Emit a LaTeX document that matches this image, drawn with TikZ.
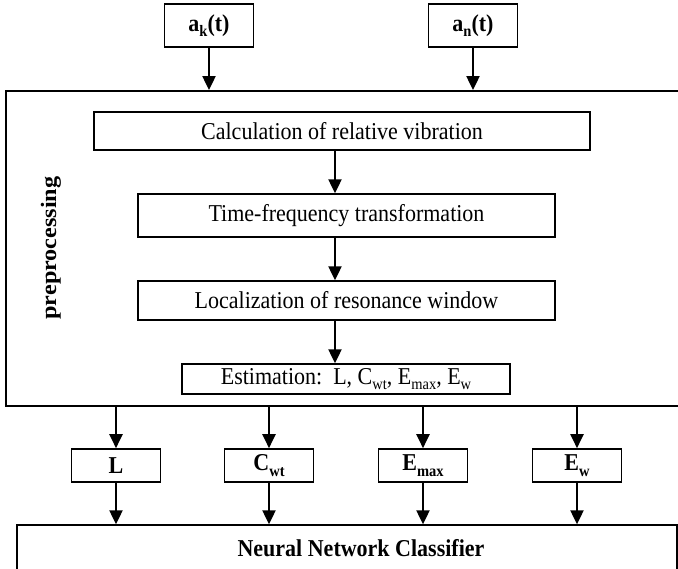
\documentclass[tikz,border=0pt]{standalone}
\usepackage{fontspec}
\setmainfont{Liberation Serif}
\usetikzlibrary{arrows.meta}
% labels are set slightly taller than wide
\newcommand\st[1]{\scalebox{1}[1.1]{#1}}
\newcommand\stlong[1]{\scalebox{1.1}[1]{#1}}
\newcommand\lowsub[1]{\raisebox{-0.22em}{\fontsize{14.5}{14.5}\selectfont #1}}
\tikzset{
  every node/.style={font=\fontsize{22}{25}\selectfont, inner sep=0pt},
  frame/.style={draw, line width=1.8pt},
  stage/.style={draw, line width=1.3pt},
  feat/.style={draw, line width=1.6pt, minimum width=89pt, minimum height=33pt, font=\fontsize{22}{25}\selectfont\bfseries},
  inbox/.style={draw, line width=1.6pt, minimum width=89pt, minimum height=43pt, font=\fontsize{22}{25}\selectfont\bfseries},
  flow/.style={line width=2pt, -{Triangle[width=13pt,length=14pt]}},
}
\begin{document}
\begin{tikzpicture}[x=1pt,y=-1pt]
\useasboundingbox (0,0) rectangle (678,569);
\clip (0,0) rectangle (678,569);

% input signals
\node[inbox] (ak) at (209,25.5) {\st{a\lowsub{k}(t)}};
\node[inbox] (an) at (473,25.5) {\st{a\lowsub{n}(t)}};

% preprocessing block (runs past the right edge)
\node[frame, minimum width=694pt, minimum height=315pt] (pre) at (353,248.5) {};
\node[rotate=90, font=\fontsize{22}{25}\selectfont\bfseries] (prelabel) at (51,248) {\stlong{preprocessing}};

% processing stages
\node[stage, minimum width=496pt, minimum height=38pt] (calc) at (342,131) {\st{Calculation of relative vibration}};
\node[stage, minimum width=417pt, minimum height=43pt] (tf) at (346.5,215.5) {\st{Time-frequency transformation}};
\node[stage, minimum width=417pt, minimum height=39pt] (loc) at (346.5,300.5) {\st{Localization of resonance window}};
\node[stage, minimum width=328pt, minimum height=30pt] (est) at (346,379) {\st{Estimation:\ \ L, C\lowsub{wt}, E\lowsub{max}, E\lowsub{w}}};

% extracted features
\node[feat] (fL) at (116,465.5) {\st{L}};
\node[feat] (fC) at (269,465.5) {\st{C\lowsub{wt}}};
\node[feat] (fEm) at (423,465.5) {\st{E\lowsub{max}}};
\node[feat] (fEw) at (577,465.5) {\st{E\lowsub{w}}};

% classifier (runs past the bottom edge)
\node[stage, minimum width=660pt, minimum height=100pt] (nn) at (347,575) {};
\node[font=\fontsize{22}{25}\selectfont\bfseries] (nnlabel) at (361,548) {\st{Neural Network Classifier}};

% connectors
\draw[flow] (ak) -- (ak |- pre.north);
\draw[flow] (an) -- (an |- pre.north);
\draw[flow] (335,0 |- calc.south) -- (335,0 |- tf.north);
\draw[flow] (335,0 |- tf.south) -- (335,0 |- loc.north);
\draw[flow] (335,0 |- loc.south) -- (335,0 |- est.north);
\foreach \f in {fL,fC,fEm,fEw}{
  \draw[flow] (\f |- pre.south) -- (\f);
  \draw[flow] (\f) -- (\f |- nn.north);
}
\end{tikzpicture}
\end{document}
